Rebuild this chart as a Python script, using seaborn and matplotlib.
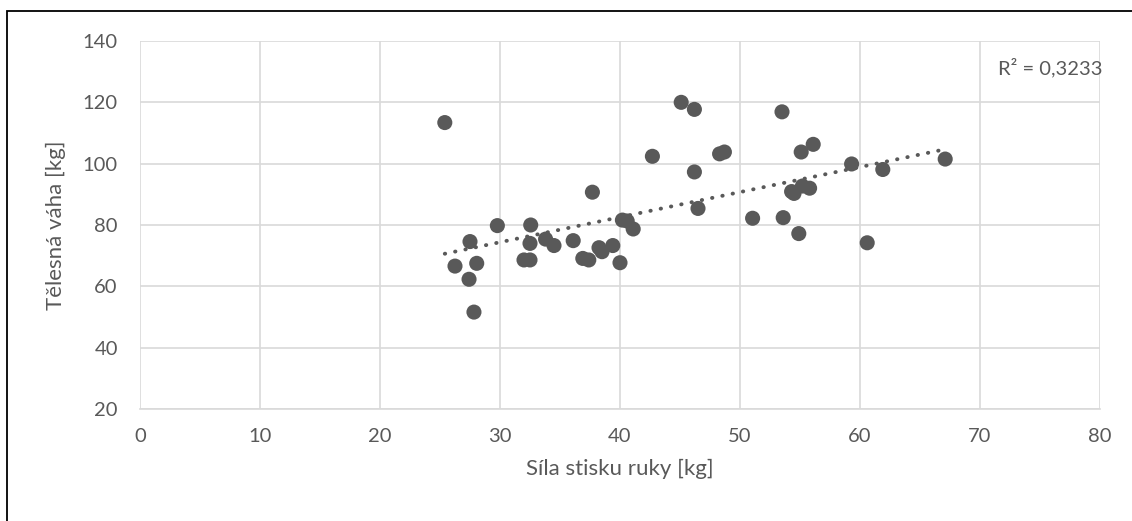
import matplotlib
matplotlib.use("Agg")
import matplotlib.pyplot as plt
import seaborn as sns
import pandas as pd
from matplotlib.patches import Rectangle

grip = [25.4, 26.25, 27.5, 28.06, 27.42, 27.83, 29.78, 32.56, 32.5, 32.0, 32.5,
        33.8, 34.5, 36.1, 37.7, 36.9, 37.4, 38.25, 38.5, 39.4, 40.0, 40.2, 40.6,
        41.1, 42.7, 45.1, 46.2, 46.2, 48.3, 48.7, 46.5, 53.5, 55.1, 56.1, 51.05,
        53.6, 54.9, 54.3, 54.5, 55.2, 55.8, 59.3, 61.9, 60.6, 67.1]
weight = [113.4, 66.6, 74.6, 67.5, 62.3, 51.6, 79.8, 80.0, 74.0, 68.6, 68.6,
          75.4, 73.3, 74.9, 90.7, 69.1, 68.6, 72.6, 71.3, 73.3, 67.7, 81.6, 81.3,
          78.7, 102.4, 120.0, 117.7, 97.3, 103.2, 103.8, 85.4, 116.9, 103.8, 106.3, 82.2,
          82.4, 77.2, 90.9, 90.3, 92.7, 92.0, 99.9, 98.1, 74.2, 101.5]
x_ticks = [0, 10, 20, 30, 40, 50, 60, 70, 80]
y_ticks = [20, 40, 60, 80, 100, 120, 140]
r2_text = "R² = 0,3233"
x_label = "Síla stisku ruky [kg]"
y_label = "Tělesná váha [kg]"

df = pd.DataFrame({"grip": grip, "weight": weight})

sns.set_theme(style="white")
plt.rcParams['font.family'] = ['Lato', 'DejaVu Sans']

fig = plt.figure(figsize=(11.32, 5.21), dpi=100)
ax = fig.add_axes([140/1132, 1-409/521, 960/1132, 368/521])

fig.patches.append(Rectangle((7/1132, -0.1), 1.2, 1-11/521+0.1, transform=fig.transFigure,
                             fill=False, edgecolor="black", linewidth=1.3, zorder=0))

grey = "#595959"
sns.regplot(data=df, x="grip", y="weight", ax=ax, scatter=False, ci=None, truncate=True,
            line_kws=dict(color=grey, linestyle=(0, (0.1, 2.6)), linewidth=2.8,
                          dash_capstyle="round"))
sns.scatterplot(data=df, x="grip", y="weight", ax=ax, s=118, color=grey, edgecolor="none", zorder=3)

ax.set_xlim(0, 80)
ax.set_ylim(20, 140)
ax.set_xticks(x_ticks)
ax.set_yticks(y_ticks)
ax.grid(True, color="#d9d9d9", linewidth=1.2)
ax.set_axisbelow(True)
for s in ["top", "right", "left"]:
    ax.spines[s].set_visible(False)
ax.spines["bottom"].set_color("#d9d9d9")
ax.spines["bottom"].set_linewidth(1.2)
ax.tick_params(axis="both", length=0, labelsize=14.5, colors=grey)
ax.tick_params(axis="x", pad=14)
ax.tick_params(axis="y", pad=16)
ax.set_xlabel(x_label, fontsize=16, color=grey, labelpad=10)
ax.set_ylabel(y_label, fontsize=16, color=grey, labelpad=12)
ax.text(0.948, 0.955, r2_text, transform=ax.transAxes, ha="center", va="top",
        fontsize=14.5, color=grey)

fig.savefig("out.png", dpi=100)
